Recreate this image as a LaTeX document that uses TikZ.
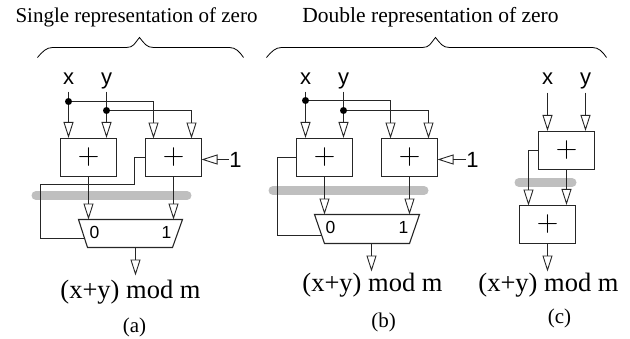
\documentclass[tikz,border=0pt]{standalone}
\usepackage{fontspec}
\setmainfont{Liberation Serif}
\newfontfamily\labelfont{Liberation Sans}
\usetikzlibrary{arrows.meta,calc,positioning}
\definecolor{wiregray}{gray}{0.15}
\definecolor{bargray}{gray}{0.75}
\newcommand{\addsign}{\scalebox{1.2}{$+$}}
\tikzset{
  adder/.style={draw=wiregray, line width=1.1pt, minimum width=56pt, minimum height=38pt, inner sep=0pt,
    font=\fontsize{24.88}{25}\selectfont},
  wire/.style={draw=wiregray, line width=1.1pt},
  inarrow/.style={wire, -{Triangle[open, length=16pt, width=10pt, line width=0.9pt]}},
  dotnode/.style={circle, fill=black, inner sep=0pt, minimum size=7pt},
  sig/.style={font=\labelfont\fontsize{22}{22}\selectfont, inner sep=0pt, anchor=base},
  muxlabel/.style={font=\labelfont\fontsize{17.5}{17.5}\selectfont, inner sep=0pt, anchor=base},
  result/.style={font=\fontsize{26.5}{26.5}\selectfont, inner sep=0pt},
  caption/.style={font=\fontsize{21}{21}\selectfont, inner sep=0pt},
  heading/.style={font=\fontsize{21}{21}\selectfont, inner sep=0pt},
  bar/.style={line width=9pt, line cap=round, bargray},
  bracket/.style={black, line width=0.8pt}
}
\begin{document}
\begin{tikzpicture}[x=1pt,y=-1pt]
  \useasboundingbox (0,0) rectangle (630,338);
  \begin{scope}[shift={(0.5,0.5)}]
  % headings and their braces
  \node[heading] (singletitle) at (136,17) {Single representation of zero};
  \node[heading, font=\fontsize{21.5}{21.5}\selectfont] (doubletitle) at (430,17) {Double representation of zero};
  \draw[bracket] (37,57) .. controls (42,51) and (46,47) .. (52,47) -- (126,47)
    .. controls (133,47) and (134,43) .. (139,37) .. controls (144,43) and (146,47) .. (153,47)
    -- (229,47) .. controls (235,47) and (239,51) .. (243,57);
  \draw[bracket] (266,57) .. controls (271,51) and (275,47) .. (281,47) -- (422,47)
    .. controls (429,47) and (430,43) .. (435,37) .. controls (440,43) and (442,47) .. (449,47)
    -- (592,47) .. controls (598,47) and (602,51) .. (606,57);

  % variant (a)
  \draw[bar] (35.5,195) -- (186.5,195);
  \node[adder] (addaleft) at (88,157) {\addsign};
  \node[adder] (addaright) at (173,157) {\addsign};
  \node[sig] (xa) at (68,84) {x};
  \node[sig] (ya) at (106,84) {y};
  \node[sig] (onea) at (235,167) {1};
  \node[dotnode] (xdota) at (68,101) {};
  \node[dotnode] (ydota) at (106,110) {};
  \coordinate (xtopa) at (68,91);
  \coordinate (ytopa) at (106,91);
  \coordinate (xinb) at (153,138);
  \coordinate (yinb) at (191,138);
  \coordinate (muxatl) at (78,219);
  \coordinate (muxatr) at (182,219);
  \coordinate (muxabr) at (172,247);
  \coordinate (muxabl) at (87,247);
  \coordinate (muxasel) at (83,238);
  \coordinate (muxain) at (88,219);
  \coordinate (muxbin) at (173,219);
  \coordinate (muxaout) at (135,247);
  \coordinate (outa) at (135,275);
  \draw[wire] (muxatl) -- (muxatr) -- (muxabr) -- (muxabl) -- cycle;
  \node[muxlabel] (zeroa) at (94,238) {0};
  \node[muxlabel] (unita) at (166,238) {1};
  \draw[wire] (xtopa) -- (xdota);
  \draw[wire] (ytopa) -- (ydota);
  \draw[inarrow] (xdota) -- (xdota |- addaleft.north);
  \draw[inarrow] (ydota) -- (ydota |- addaleft.north);
  \draw[inarrow] (xdota) -| (xinb);
  \draw[inarrow] (ydota) -| (yinb);
  \draw[inarrow] (onea.west |- addaright.east) ++(0,2) -- (201,159);
  \draw[inarrow] (addaleft.south) -- (muxain);
  \draw[inarrow] (addaright.south) -- (muxbin);
  \draw[wire] (addaright.west) -- (134,157) -- (134,184) -- (40,184) -- (40,238) -- (muxasel);
  \draw[inarrow] (muxaout) -- (outa);
  \node[result] (resulta) at (130,292) {(x+y) mod m};
  \node[caption] (capa) at (134,327) {(a)};

  % variant (b)
  \draw[bar] (272.5,190) -- (423.5,190);
  \node[adder] (addbleft) at (324,157) {\addsign};
  \node[adder] (addbright) at (409,157) {\addsign};
  \node[sig] (xb) at (305,84) {x};
  \node[sig] (yb) at (343,84) {y};
  \node[sig] (oneb) at (472,167) {1};
  \node[dotnode] (xdotb) at (305,100) {};
  \node[dotnode] (ydotb) at (343,110) {};
  \coordinate (xtopb) at (305,91);
  \coordinate (ytopb) at (343,91);
  \coordinate (xinc) at (390,138);
  \coordinate (yinc) at (428,138);
  \coordinate (muxbtl) at (314,214);
  \coordinate (muxbtr) at (419,214);
  \coordinate (muxbbr) at (409,243);
  \coordinate (muxbbl) at (324,243);
  \coordinate (muxbsel) at (320,235);
  \coordinate (muxcin) at (324,214);
  \coordinate (muxdin) at (409,214);
  \coordinate (muxbout) at (371,243);
  \coordinate (outb) at (371,271);
  \draw[wire] (muxbtl) -- (muxbtr) -- (muxbbr) -- (muxbbl) -- cycle;
  \node[muxlabel] (zerob) at (330,233) {0};
  \node[muxlabel] (unitb) at (403,233) {1};
  \draw[wire] (xtopb) -- (xdotb);
  \draw[wire] (ytopb) -- (ydotb);
  \draw[inarrow] (xdotb) -- (xdotb |- addbleft.north);
  \draw[inarrow] (ydotb) -- (ydotb |- addbleft.north);
  \draw[inarrow] (xdotb) -| (xinc);
  \draw[inarrow] (ydotb) -| (yinc);
  \draw[inarrow] (oneb.west |- addbright.east) ++(0,2) -- (437,159);
  \draw[inarrow] (addbleft.south) -- (muxcin);
  \draw[inarrow] (addbright.south) -- (muxdin);
  \draw[wire] (addbleft.west) -- (277,157) -- (277,235) -- (muxbsel);
  \draw[inarrow] (muxbout) -- (outb);
  \node[result] (resultb) at (372,285) {(x+y) mod m};
  \node[caption] (capb) at (383,322) {(b)};

  % variant (c)
  \draw[bar] (518.5,182) -- (571.5,182);
  \node[adder] (addctop) at (566,150) {\addsign};
  \node[adder] (addcbot) at (547,224) {\addsign};
  \node[sig] (xc) at (547,84) {x};
  \node[sig] (yc) at (585,84) {y};
  \coordinate (xtopc) at (547,92);
  \coordinate (ytopc) at (585,92);
  \coordinate (outc) at (547,271);
  \draw[inarrow] (xtopc) -- (xtopc |- addctop.north);
  \draw[inarrow] (ytopc) -- (ytopc |- addctop.north);
  \draw[inarrow] (addctop.west) -- (528,150) -- (528,205);
  \draw[inarrow] (addctop.south) -- (addctop.south |- addcbot.north);
  \draw[inarrow] (addcbot.south) -- (outc);
  \node[result] (resultc) at (548,285) {(x+y) mod m};
  \node[caption] (capc) at (559,318) {(c)};
  \end{scope}
\end{tikzpicture}
\end{document}
